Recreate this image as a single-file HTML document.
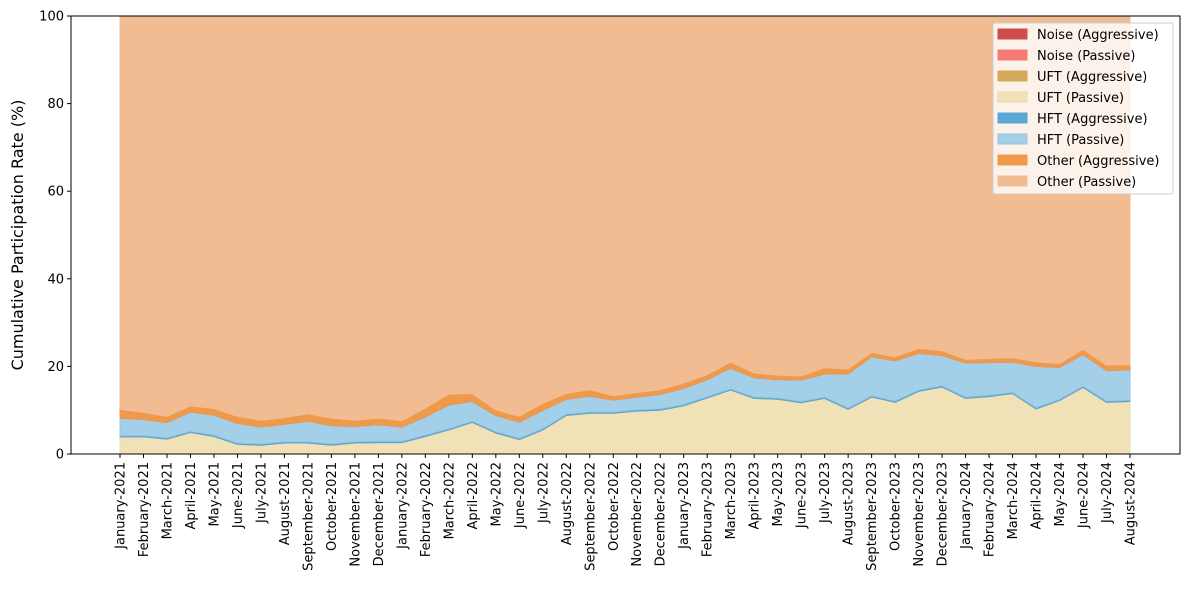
<!DOCTYPE html>
<html><head><meta charset="utf-8"><style>
body{margin:0;background:#fff;}
svg{display:block;font-family:"DejaVu Sans","Liberation Sans",sans-serif;}
</style></head><body>
<svg id="chart" width="1189" height="590"></svg>
<script>
const months=["January-2021","February-2021","March-2021","April-2021","May-2021","June-2021","July-2021","August-2021","September-2021","October-2021","November-2021","December-2021","January-2022","February-2022","March-2022","April-2022","May-2022","June-2022","July-2022","August-2022","September-2022","October-2022","November-2022","December-2022","January-2023","February-2023","March-2023","April-2023","May-2023","June-2023","July-2023","August-2023","September-2023","October-2023","November-2023","December-2023","January-2024","February-2024","March-2024","April-2024","May-2024","June-2024","July-2024","August-2024"];
const noiseAggressive=months.map(()=>0);
const noisePassive=months.map(()=>0);
const uftAggressive=months.map(()=>0);
const uftPassive=[3.9,3.9,3.4,4.9,4.0,2.2,2.0,2.5,2.5,2.0,2.5,2.6,2.6,4.0,5.5,7.2,4.8,3.3,5.5,8.8,9.3,9.3,9.8,10.0,11.0,12.8,14.6,12.7,12.5,11.7,12.7,10.2,13.0,11.8,14.3,15.3,12.7,13.1,13.8,10.3,12.2,15.2,11.8,12.0];
const hftAggressive=months.map(()=>0.3);
const hftPassive=[4.0,3.7,3.5,4.4,4.6,4.5,3.9,4.0,4.7,4.2,3.5,3.8,3.3,4.2,5.4,4.5,3.7,3.7,4.2,3.4,3.6,2.7,2.9,3.3,3.7,3.9,4.7,4.4,4.2,4.9,5.3,7.8,8.9,9.2,8.4,6.9,7.8,7.5,6.9,9.4,7.3,7.2,7.0,6.9];
const otherAggressive=[2.0,1.6,1.4,1.4,1.5,1.6,1.5,1.5,1.7,1.7,1.4,1.5,1.4,2.0,2.5,1.8,1.3,1.3,1.6,1.3,1.5,1.0,1.0,1.1,1.2,1.1,1.4,1.1,1.0,0.9,1.4,1.1,1.0,0.9,1.1,1.1,0.8,0.9,1.0,1.0,0.9,1.2,1.2,1.2];
const yTicks=[0,20,40,60,80,100];

const NS="http://www.w3.org/2000/svg";
const svg=document.getElementById('chart');
const L=71,R=1180,T=16,B=454;
const x0=120,x1=1130;
const xs=i=>x0+i*(x1-x0)/(months.length-1);
const ys=v=>B-(v/100)*(B-T);
function mk(tag,attrs,parent){const e=document.createElementNS(NS,tag);for(const k in attrs)e.setAttribute(k,attrs[k]);(parent||svg).appendChild(e);return e;}

const otherPassive=months.map((m,i)=>100-noiseAggressive[i]-noisePassive[i]-uftAggressive[i]-uftPassive[i]-hftAggressive[i]-hftPassive[i]-otherAggressive[i]);
const layers=[
 {n:"UFT (Passive)",d:uftPassive,c:"#f0e2b6",s:"#ead9a8",id:"uft-passive"},
 {n:"UFT (Aggressive)",d:uftAggressive,c:"#d4a95a",s:"#d4a95a",id:"uft-aggressive"},
 {n:"HFT (Aggressive)",d:hftAggressive,c:"#5aa7d6",s:"#5aa7d6",id:"hft-aggressive"},
 {n:"HFT (Passive)",d:hftPassive,c:"#a3cfe8",s:"#93c5e3",id:"hft-passive"},
 {n:"Noise (Aggressive)",d:noiseAggressive,c:"#d04b4b",s:"#d04b4b",id:"noise-aggressive"},
 {n:"Noise (Passive)",d:noisePassive,c:"#f87a74",s:"#f87a74",id:"noise-passive"},
 {n:"Other (Aggressive)",d:otherAggressive,c:"#ee9a4a",s:"#ee9a4a",id:"other-aggressive"},
 {n:"Other (Passive)",d:otherPassive,c:"#f2bc92",s:"#f2bc92",id:"other-passive"}
];
let base=months.map(()=>0);
const g=mk('g',{});


layers.forEach(l=>{
  const top=base.map((b,i)=>b+l.d[i]);
  let p="";
  top.forEach((v,i)=>{p+=(i?"L":"M")+xs(i).toFixed(2)+","+ys(v).toFixed(2);});
  for(let i=months.length-1;i>=0;i--)p+="L"+xs(i).toFixed(2)+","+ys(base[i]).toFixed(2);
  p+="Z";
  const a=mk('path',{d:p,fill:l.c,stroke:l.s,'stroke-width':1},g);
  
  
  base=top;
});
// axes frame
const fr=mk('rect',{x:L,y:T,width:R-L,height:B-T,fill:'none',stroke:'#000','stroke-width':1});


yTicks.forEach(v=>{
  mk('line',{x1:L-4,x2:L,y1:ys(v),y2:ys(v),stroke:'#000'});
  const t=mk('text',{x:L-7,y:ys(v)+4.5,'text-anchor':'end','font-size':13});
  t.textContent=v;
  
  
});
months.forEach((m,i)=>{
  mk('line',{x1:xs(i),x2:xs(i),y1:B,y2:B+4,stroke:'#000'});
  const t=mk('text',{transform:`translate(${xs(i)+4.5},${B+8}) rotate(-90)`,'text-anchor':'end','font-size':13});
  t.textContent=m;
  
  
});
const yl=mk('text',{transform:'translate(23,235) rotate(-90)','text-anchor':'middle','font-size':16});
yl.textContent="Cumulative Participation Rate (%)";


// legend
const lg=mk('g',{});


mk('rect',{x:993,y:23,width:180,height:171,rx:2,fill:'#fff','fill-opacity':0.8,stroke:'#ccc'},lg);
const order=["noise-aggressive","noise-passive","uft-aggressive","uft-passive","hft-aggressive","hft-passive","other-aggressive","other-passive"];
order.forEach((id,k)=>{
  const l=layers.find(q=>q.id===id);
  const y=29+k*21;
  mk('rect',{x:998,y:y,width:29,height:10,fill:l.c,stroke:l.s},lg);
  const t=mk('text',{x:1037,y:y+10,'font-size':13},lg);
  t.textContent=l.n;
  
  
});
</script>
</body></html>
